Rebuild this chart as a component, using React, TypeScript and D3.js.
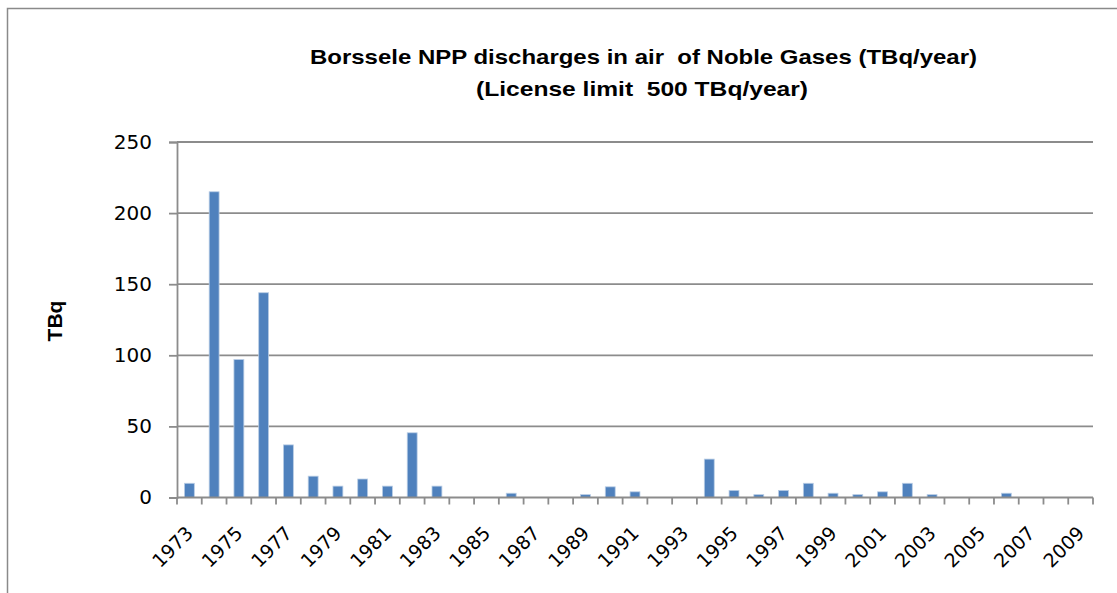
import React, { useRef, useEffect } from "react";
import * as d3 from "d3";

// Borssele NPP noble gas discharges, one bar per year
const years: string[] = [
  "1973", "1974", "1975", "1976", "1977", "1978", "1979", "1980", "1981", "1982",
  "1983", "1984", "1985", "1986", "1987", "1988", "1989", "1990", "1991", "1992",
  "1993", "1994", "1995", "1996", "1997", "1998", "1999", "2000", "2001", "2002",
  "2003", "2004", "2005", "2006", "2007", "2008", "2009",
];
const discharges: number[] = [
  10, 215, 97, 144, 37, 15, 8, 13, 8, 45.5,
  8, 0, 0, 3, 0, 0, 2, 7.5, 4, 0,
  0, 27, 5, 2, 5, 10, 3, 2, 4, 10,
  2, 0, 0, 3, 0, 0, 0,
];
const yTicks: number[] = [0, 50, 100, 150, 200, 250];
const titleLines: string[] = [
  "Borssele NPP discharges in air  of Noble Gases (TBq/year)",
  "(License limit  500 TBq/year)",
];
const yTitle = "TBq";

const App = () => {
  const svgRef = useRef<SVGSVGElement>(null);

  useEffect(() => {
    const width = 1117;
    const height = 593;
    const svg = d3.select(svgRef.current).attr("width", width).attr("height", height);
    svg.selectAll("*").remove();

    const left = 177;
    const right = 1093;
    const top = 142;
    const bottom = 497.5;
    const gridColor = "#8c8c8c";

    // chart border
    svg
      .append("rect")
      .attr("x", 7.5)
      .attr("y", 8.5)
      .attr("width", 1130)
      .attr("height", 620)
      .attr("fill", "none")
      .attr("stroke", "#8a8a8a")
      .attr("stroke-width", 1.5);

    const x = d3.scaleBand().domain(years).range([left, right]).paddingInner(0.6).paddingOuter(0.3);
    const y = d3.scaleLinear().domain([0, 250]).range([bottom, top]);

    // gridlines
    svg
      .append("g")
      .selectAll("line")
      .data(yTicks.filter((t) => t > 0))
      .join("line")
      .attr("x1", left)
      .attr("x2", right)
      .attr("y1", (d) => y(d))
      .attr("y2", (d) => y(d))
      .attr("stroke", gridColor)
      .attr("stroke-width", 1.8);

    // y axis
    const yAxis = svg
      .append("g")
      .attr("transform", `translate(${left},0)`)
      .call(d3.axisLeft(y).tickValues(yTicks).tickSize(8).tickPadding(17));
    yAxis.select(".domain").attr("stroke", gridColor).attr("stroke-width", 1.8);
    yAxis.selectAll(".tick line").attr("stroke", gridColor).attr("stroke-width", 1.8);
    yAxis
      .selectAll(".tick text")
      .attr("font-family", "DejaVu Sans")
      .attr("font-size", 20)
      .attr("fill", "#000");

    // bars
    svg
      .append("g")
      .selectAll("rect")
      .data(discharges)
      .join("rect")
      .attr("x", (d, i) => x(years[i]) as number)
      .attr("y", (d) => y(d))
      .attr("width", x.bandwidth())
      .attr("height", (d) => bottom - y(d))
      .attr("fill", "#4f81bd")
      .attr("stroke", (d) => (d > 0 ? "#b9cde5" : "none"))
      .attr("stroke-width", 0.8);

    // x axis line and category ticks
    const step = x.step();
    const boundaries = d3.range(years.length + 1).map((i) => left + i * step);
    svg
      .append("line")
      .attr("x1", left)
      .attr("x2", right)
      .attr("y1", bottom)
      .attr("y2", bottom)
      .attr("stroke", gridColor)
      .attr("stroke-width", 1.8);
    svg
      .append("g")
      .selectAll("line")
      .data(boundaries)
      .join("line")
      .attr("x1", (d) => d)
      .attr("x2", (d) => d)
      .attr("y1", bottom)
      .attr("y2", bottom + 7)
      .attr("stroke", gridColor)
      .attr("stroke-width", 1.8);

    // rotated year labels, every other year
    svg
      .append("g")
      .selectAll("text")
      .data(years.filter((d, i) => i % 2 === 0))
      .join("text")
      .attr("transform", (d) => `translate(${(x(d) as number) + x.bandwidth() / 2 + 5},${bottom + 37}) rotate(-45)`)
      .attr("text-anchor", "end")
      .attr("font-family", "DejaVu Sans")
      .attr("font-size", 19)
      .attr("fill", "#000")
      .text((d) => d);

    // title (keeps the double spaces of the original)
    svg
      .append("g")
      .selectAll("text")
      .data(titleLines)
      .join("text")
      .attr("x", (d, i) => (i === 0 ? 643.5 : 642))
      .attr("y", (d, i) => 64 + i * 32)
      .attr("text-anchor", "middle")
      .attr("font-family", "Liberation Sans")
      .attr("font-weight", "bold")
      .attr("font-size", 21)
      .attr("textLength", (d, i) => (i === 0 ? 667 : 332))
      .attr("lengthAdjust", "spacingAndGlyphs")
      .style("white-space", "pre")
      .text((d) => d);

    // y axis title
    svg
      .append("text")
      .attr("transform", `translate(62,321) rotate(-90)`)
      .attr("text-anchor", "middle")
      .attr("font-family", "Liberation Sans")
      .attr("font-weight", "bold")
      .attr("font-size", 21)
      .text(yTitle);
  }, []);

  return (
    <div style={{ position: "absolute", left: 0, top: 0 }}>
      <svg ref={svgRef} style={{ display: "block", background: "#fff" }}></svg>
    </div>
  );
};

export default App;
